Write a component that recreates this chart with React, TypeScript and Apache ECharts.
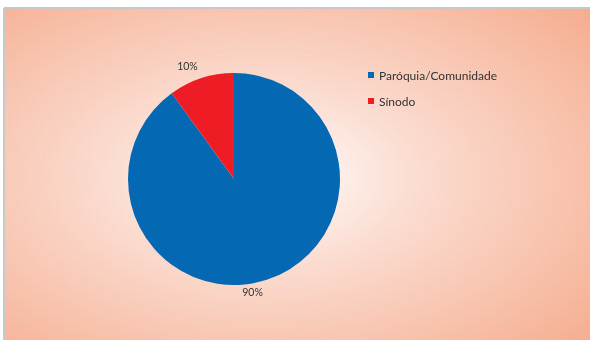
import React, { useEffect, useRef } from "react";
import * as echarts from "echarts";

const categories = ["Paróquia/Comunidade", "Sínodo"];
const values = [90, 10];
const colors = ["#0568B3", "#EE1C25"];

export default function App() {
  const ref = useRef<HTMLDivElement>(null);
  useEffect(() => {
    const chart = echarts.init(ref.current!, null, { renderer: "svg" });
    chart.setOption({
      animation: false,
      graphic: [
        {
          type: "rect",
          shape: { x: 4, y: 8, width: 590, height: 340 },
          style: {
            fill: new echarts.graphic.RadialGradient(0.44, 0.5, 0.75, [
              { offset: 0, color: "#FFFFFF" },
              { offset: 0.35, color: "#FBDCD0" },
              { offset: 1, color: "#F5AC8E" },
            ]),
          },
          z: -10,
        },
        { type: "line", shape: { x1: 4, y1: 8, x2: 590, y2: 8 }, style: { stroke: "#C8C8C8", lineWidth: 2 }, z: -5 },
        { type: "line", shape: { x1: 4, y1: 8, x2: 4, y2: 340 }, style: { stroke: "#C8C8C8", lineWidth: 2 }, z: -5 },
      ],
      legend: {
        orient: "vertical",
        left: 363,
        top: 64,
        itemWidth: 6,
        itemHeight: 6,
        itemGap: 14,
        icon: "rect",
        textStyle: { fontFamily: "Lato", fontSize: 12, color: "#333" },
        data: categories,
      },
      series: [
        {
          type: "pie",
          center: [234, 179],
          radius: 106,
          startAngle: 90,
          clockwise: true,
          data: categories.map((c, i) => ({ name: c, value: values[i], itemStyle: { color: colors[i] } })),
          label: {
            show: true,
            position: "outside",
            formatter: "{d}%",
            fontFamily: "Lato",
            fontSize: 10.5,
            color: "#333",
          },
          labelLine: { show: false, length: 8, length2: 0 },
          labelLayout: (p: any) => (p.dataIndex === 0 ? { dx: -32, dy: 5 } : { dx: 4, dy: -5 }),
        },
      ],
    });
    return () => chart.dispose();
  }, []);
  return <div ref={ref} style={{ position: "fixed", left: 0, top: 0, width: 590, height: 340 }} />;
}
